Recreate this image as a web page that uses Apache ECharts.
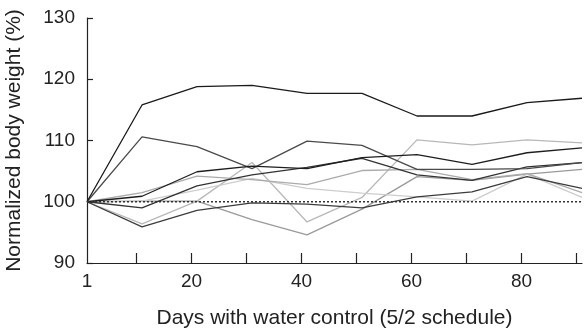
<!DOCTYPE html>
<html>
<head>
<meta charset="utf-8">
<script src="https://cdn.jsdelivr.net/npm/echarts@6/dist/echarts.min.js"></script>
<style>
  html, body { margin: 0; padding: 0; background: #fff; }
  #chart { width: 584px; height: 331px; }
</style>
</head>
<body>
<div id="chart"></div>
<script>
// days of measurement
var days = [1, 11, 21, 31, 41, 51, 61, 71, 81, 91];

// normalized body weight per animal (%)
var mouseA = [100, 115.8, 118.8, 119.0, 117.7, 117.7, 114.0, 114.0, 116.2, 116.9];
var mouseB = [100, 110.6, 109.0, 105.4, 109.9, 109.2, 105.3, 105.3, 105.4, 106.4];
var mouseC = [100, 100.9, 104.9, 105.8, 105.4, 107.2, 107.7, 106.1, 108.0, 108.8];
var mouseD = [100, 99.0, 102.6, 104.4, 105.6, 107.1, 104.4, 103.5, 105.7, 106.4];
var mouseE = [100, 101.5, 104.2, 103.6, 102.8, 105.1, 105.3, 103.6, 104.6, 101.5];
var mouseF = [100, 100.1, 101.9, 103.8, 102.2, 101.4, 100.8, 100.1, 104.5, 100.7];
var mouseG = [100, 95.9, 98.6, 99.8, 99.6, 99.0, 100.8, 101.6, 104.1, 102.2];
var mouseH = [100, 96.4, 100.1, 106.4, 96.7, 100.7, 110.1, 109.3, 110.1, 109.6];
var mouseI = [100, 100.1, 100.1, 97.1, 94.6, 98.8, 104.1, 103.5, 104.5, 105.3];

var baseline = 100;

// axis ticks and labels
var xLabelValues = [1, 20, 40, 60, 80];
var xTickValues = [10, 20, 30, 40, 50, 60, 70, 80, 90];

var animals = [
  { data: mouseI, color: "#9a9a9a" },
  { data: mouseH, color: "#b8b8b8" },
  { data: mouseF, color: "#cdcdcd" },
  { data: mouseE, color: "#ababab" },
  { data: mouseG, color: "#3c3c3c" },
  { data: mouseD, color: "#333333" },
  { data: mouseB, color: "#4a4a4a" },
  { data: mouseC, color: "#1e1e1e" },
  { data: mouseA, color: "#1a1a1a" }
];

var series = animals.map(function (a, i) {
  return {
    type: "line",
    symbol: "none",
    silent: true,
    data: days.map(function (d, j) { return [d, a.data[j]]; }),
    lineStyle: { color: a.color, width: 1.3 },
    z: 2 + i
  };
});

// dotted 100% reference
series.push({
  type: "line",
  symbol: "none",
  silent: true,
  data: [[days[0], baseline], [days[days.length - 1], baseline]],
  lineStyle: { color: "#333", width: 1.6, type: [2, 2] },
  z: 20
});

var textColor = "#222";
var font = "Liberation Sans, Arial, sans-serif";

var chart = echarts.init(document.getElementById("chart"));
chart.setOption({
  animation: false,
  grid: { left: 87, right: 2, top: 18, bottom: 68, containLabel: false, outerBoundsMode: "none" },
  xAxis: {
    type: "value",
    min: 1,
    max: 91,
    name: "Days with water control (5/2 schedule)",
    nameLocation: "middle",
    nameGap: 45,
    nameTextStyle: { color: textColor, fontSize: 21, fontFamily: font },
    axisLine: { lineStyle: { color: "#222", width: 1.2 } },
    axisTick: { inside: true, length: 10, customValues: xTickValues, lineStyle: { color: "#222", width: 1.2 } },
    axisLabel: { customValues: xLabelValues, color: textColor, fontSize: 19, fontFamily: font, margin: 9 },
    splitLine: { show: false }
  },
  yAxis: {
    type: "value",
    min: 90,
    max: 130,
    interval: 10,
    name: "Normalized body weight (%)",
    nameLocation: "middle",
    nameGap: 62,
    nameTextStyle: { color: textColor, fontSize: 21, fontFamily: font },
    axisLine: { show: true, lineStyle: { color: "#222", width: 1.2 } },
    axisTick: { show: true, inside: true, length: 6, lineStyle: { color: "#222", width: 1.2 } },
    axisLabel: { color: textColor, fontSize: 19, fontFamily: font, margin: 12 },
    splitLine: { show: false }
  },
  series: series
});
</script>
</body>
</html>
